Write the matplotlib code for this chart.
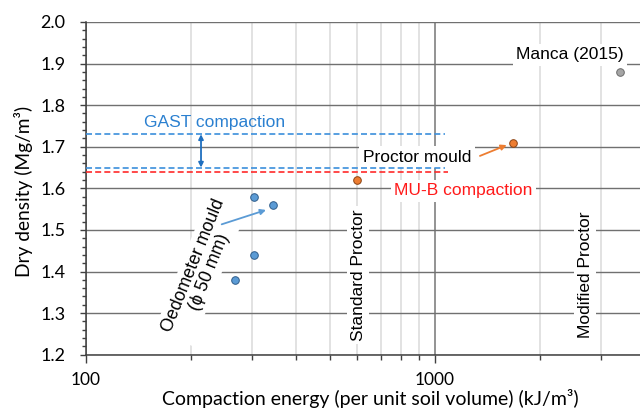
import matplotlib
matplotlib.use("Agg")
import matplotlib.pyplot as plt
from matplotlib.ticker import FixedLocator, FixedFormatter, MultipleLocator, NullFormatter

# oedometer mould tests (phi 50 mm)
oedo_energy = [304, 343, 304, 267]
oedo_density = [1.58, 1.56, 1.44, 1.38]
# proctor mould tests
proctor_energy = [600, 1680]
proctor_density = [1.62, 1.71]
# literature value
manca_energy = [3400]
manca_density = [1.88]

# field compaction levels
gast_levels = [1.73, 1.65]
mub_level = 1.64

x_major = [100, 1000]
x_major_labels = ["100", "1000"]
x_minor = [200, 300, 400, 500, 600, 700, 800, 900, 2000, 3000]
y_major = [1.2, 1.3, 1.4, 1.5, 1.6, 1.7, 1.8, 1.9, 2.0]

plt.rcParams['font.family'] = ['Lato', 'DejaVu Sans']
ann_font = ['Liberation Sans', 'DejaVu Sans']

fig = plt.figure(figsize=(6.4, 4.09), dpi=100)
ax = fig.add_axes([85.7 / 640, 54.3 / 409, 559.1 / 640, 332.7 / 409])

ax.set_xscale('log')
ax.set_xlim(100, 4000)
ax.set_ylim(1.2, 2.0)

ax.xaxis.set_major_locator(FixedLocator(x_major))
ax.xaxis.set_major_formatter(FixedFormatter(x_major_labels))
ax.xaxis.set_minor_locator(FixedLocator(x_minor))
ax.xaxis.set_minor_formatter(NullFormatter())
ax.yaxis.set_major_locator(FixedLocator(y_major))
ax.yaxis.set_minor_locator(MultipleLocator(0.02))
ax.set_yticklabels(["%.1f" % v for v in y_major])

ax.tick_params(axis='x', which='major', direction='out', length=5.8, width=1,
               color='#404040', pad=6.8, labelsize=12.5, labelcolor='black')
ax.tick_params(axis='x', which='minor', direction='out', length=3.6, width=1,
               color='#404040')
ax.tick_params(axis='y', which='major', direction='out', length=4.3, width=1,
               color='#404040', pad=10.5, labelsize=13, labelcolor='black')
ax.tick_params(axis='y', which='minor', direction='out', length=3.2, width=1,
               color='#404040')

for side in ['top', 'right']:
    ax.spines[side].set_visible(False)
for side in ['left', 'bottom']:
    ax.spines[side].set_color('#404040')
    ax.spines[side].set_linewidth(1.1)

ax.grid(True, axis='y', which='major', color='#707070', lw=1.0, zorder=0)
ax.grid(True, axis='x', which='major', color='#808080', lw=1.2, zorder=0)
ax.grid(True, axis='x', which='minor', color='#dadada', lw=1.1, zorder=0)
ax.set_axisbelow(True)

ax.set_xlabel('Compaction energy (per unit soil volume) (kJ/m³)', fontsize=14)
ax.xaxis.set_label_coords(0.5085, -0.104)
ax.xaxis.label.set_va('top')
ax.set_ylabel('Dry density (Mg/m³)', fontsize=13.8)
ax.yaxis.set_label_coords(-0.094, 0.49)

# horizontal compaction levels
for lvl in gast_levels:
    ax.plot([100, 1070], [lvl, lvl], color='#3b8fdc', lw=1.2,
            dashes=(3.6, 1.9), zorder=6)
ax.plot([100, 1090], [mub_level, mub_level], color='#ff2a2a', lw=1.2,
        dashes=(3.6, 1.9), zorder=6)
ax.annotate('', xy=(214, gast_levels[0]), xytext=(214, gast_levels[1]),
            arrowprops=dict(arrowstyle='<|-|>', color='#1f6fbf', lw=1.3,
                            mutation_scale=7, shrinkA=0, shrinkB=0), zorder=6)

# data points
ax.scatter(oedo_energy, oedo_density, s=30, color='#5b9bd5',
           edgecolor='#2f5d8a', linewidth=0.7, zorder=7)
ax.scatter(proctor_energy, proctor_density, s=30, color='#ed7d31',
           edgecolor='#8a4212', linewidth=0.7, zorder=7)
ax.scatter(manca_energy, manca_density, s=30, color='#a5a5a5',
           edgecolor='#6b6b6b', linewidth=0.7, zorder=7)

box = dict(facecolor='white', edgecolor='none', pad=2.5)

ax.text(233.5, 1.759, 'GAST compaction', color='#2b80d0', fontsize=12.5,
        family=ann_font, ha='center', va='center', zorder=5)
ax.text(1209, 1.594, 'MU-B compaction', color='#ff1a1a', fontsize=12.5,
        family=ann_font, ha='center', va='center', bbox=box, zorder=5)
ax.text(889, 1.675, 'Proctor mould', color='black', fontsize=12.5,
        family=ann_font, ha='center', va='center', bbox=box, zorder=5)
ax.text(2442, 1.921, 'Manca (2015)', color='black', fontsize=12.5,
        family=ann_font, ha='center', va='center', bbox=box, zorder=5)
ax.text(604, 1.392, 'Standard Proctor', color='black', fontsize=12.5,
        family=ann_font, ha='center', va='center', rotation=90,
        bbox=box, zorder=5)
ax.text(2697, 1.392, 'Modified Proctor', color='black', fontsize=12.5,
        family=ann_font, ha='center', va='center', rotation=90,
        bbox=box, zorder=5)
ax.text(214, 1.406, 'Oedometer mould\n(ϕ 50 mm)', color='black', fontsize=12.8,
        family=ann_font, ha='center', va='center', multialignment='center',
        rotation=68, rotation_mode='anchor', linespacing=1.0,
        bbox=box, zorder=5)

# pointer arrows
ax.annotate('', xy=(328.6, 1.548), xytext=(245.3, 1.5135),
            arrowprops=dict(arrowstyle='-|>', color='#5b9bd5', lw=1.3,
                            mutation_scale=8, shrinkA=0, shrinkB=0), zorder=6)
ax.annotate('', xy=(1608, 1.704), xytext=(1348, 1.678),
            arrowprops=dict(arrowstyle='-|>', color='#ed7d31', lw=1.3,
                            mutation_scale=8, shrinkA=0, shrinkB=0), zorder=6)

fig.savefig('out.png', dpi=100)
